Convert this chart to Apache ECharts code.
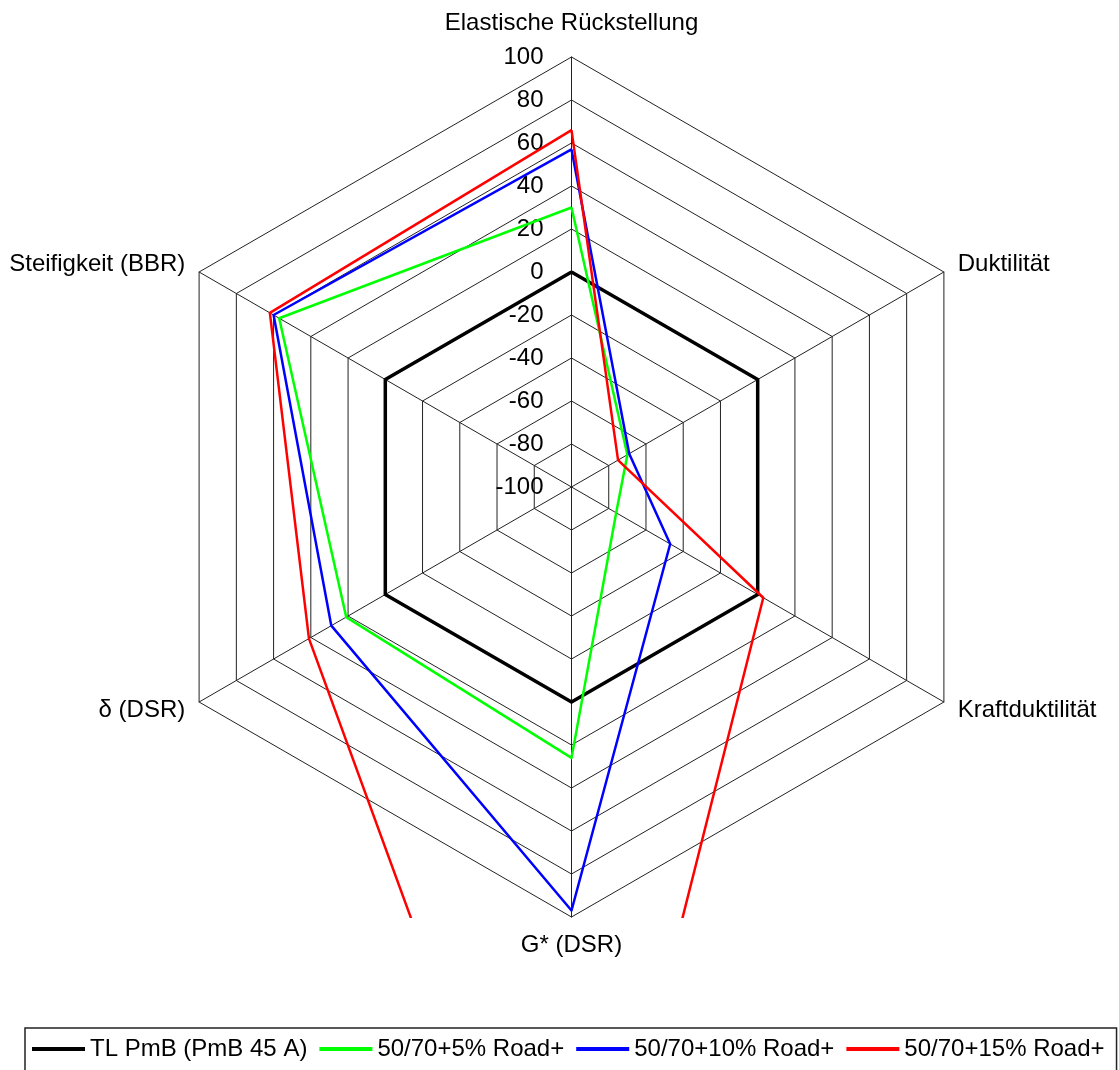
<!DOCTYPE html>
<html><head><meta charset="utf-8">
<script src="https://cdn.jsdelivr.net/npm/echarts@6/dist/echarts.min.js"></script>
<style>html,body{margin:0;padding:0;background:#fff}#c{width:1119px;height:1070px}</style>
</head><body><div id="c"></div>
<script>
// Indicators in ECharts order (counter-clockwise starting at the top)
const indicatorNames = ['Elastische Rückstellung', 'Steifigkeit (BBR)', 'δ (DSR)', 'G* (DSR)', 'Kraftduktilität', 'Duktilität'];
const axisMin = -100;
const axisMax = 100;
const axisStep = 20;
const seriesNames = ['TL PmB (PmB 45 A)', '50/70+5% Road+', '50/70+10% Road+', '50/70+15% Road+'];
const tlPmB  = [0, 0, 0, 0, 0, 0];
const road5  = [30, 57, 21, 26, -76, -70];
const road10 = [57, 60, 29, 97, -47, -69];
const road15 = [66, 62, 41, 305, 3, -75];
const seriesValues = [tlPmB, road5, road10, road15];
const seriesColors = ['#000000', '#00ff00', '#0000ff', '#ff0000'];
const seriesWidths = [3.5, 2.5, 2.5, 2.5];

const FONT = '"Liberation Sans", Arial, sans-serif';
const FS = 24;
const CENTER = [571.5, 487];
const RADIUS = 430;
const BOTTOM_NAME = 3;

const chart = echarts.init(document.getElementById('c'), null, {renderer: 'canvas'});

const mainIndicators = indicatorNames.map((n, i) => {
  const o = {name: i === BOTTOM_NAME ? '' : n, min: axisMin, max: axisMax};
  if (i === 0) { o.axisLabel = {show: true}; o.nameGap = 22; }
  return o;
});
const labelIndicators = indicatorNames.map((n, i) => ({name: i === BOTTOM_NAME ? n : '', min: axisMin, max: axisMax}));

const lineCol = '#222';
const option = {
  animation: false,
  backgroundColor: '#fff',
  radar: [{
    center: CENTER,
    radius: RADIUS,
    startAngle: 90,
    shape: 'polygon',
    splitNumber: (axisMax - axisMin) / axisStep,
    axisNameGap: 16,
    indicator: mainIndicators,
    z: 0,
    axisName: {color: '#000', fontSize: FS, fontFamily: FONT},
    axisLine: {show: true, lineStyle: {color: lineCol, width: 1}},
    splitLine: {show: true, lineStyle: {color: lineCol, width: 1}},
    splitArea: {show: false},
    axisTick: {show: false},
    axisLabel: {show: false, color: '#000', fontSize: FS, fontFamily: FONT, margin: 28}
  }, {
    center: CENTER,
    radius: RADIUS,
    startAngle: 90,
    shape: 'polygon',
    splitNumber: (axisMax - axisMin) / axisStep,
    axisNameGap: 16,
    indicator: labelIndicators,
    z: 6,
    axisName: {color: '#000', fontSize: FS, fontFamily: FONT},
    axisLine: {show: false},
    splitLine: {show: false},
    splitArea: {show: false},
    axisTick: {show: false},
    axisLabel: {show: false}
  }],
  legend: {
    left: 25,
    top: 1028,
    z: 10,
    orient: 'horizontal',
    icon: 'rect',
    itemWidth: 53,
    itemHeight: 4,
    itemGap: 12,
    padding: [9, 12, 60, 7],
    borderColor: '#222',
    borderWidth: 1.5,
    backgroundColor: '#fff',
    textStyle: {color: '#000', fontSize: FS, fontFamily: FONT},
    data: seriesNames
  },
  graphic: [{
    type: 'rect',
    silent: true,
    z: 3,
    shape: {x: 0, y: 918, width: 1119, height: 200},
    style: {fill: '#fff'}
  }],
  series: seriesNames.map((name, k) => ({
    type: 'radar',
    radarIndex: 0,
    name: name,
    z: 2,
    symbol: 'none',
    silent: true,
    emphasis: {disabled: true},
    lineStyle: {color: seriesColors[k], width: seriesWidths[k]},
    itemStyle: {color: seriesColors[k]},
    data: [{name: name, value: seriesValues[k]}]
  }))
};
chart.setOption(option);
</script></body></html>
